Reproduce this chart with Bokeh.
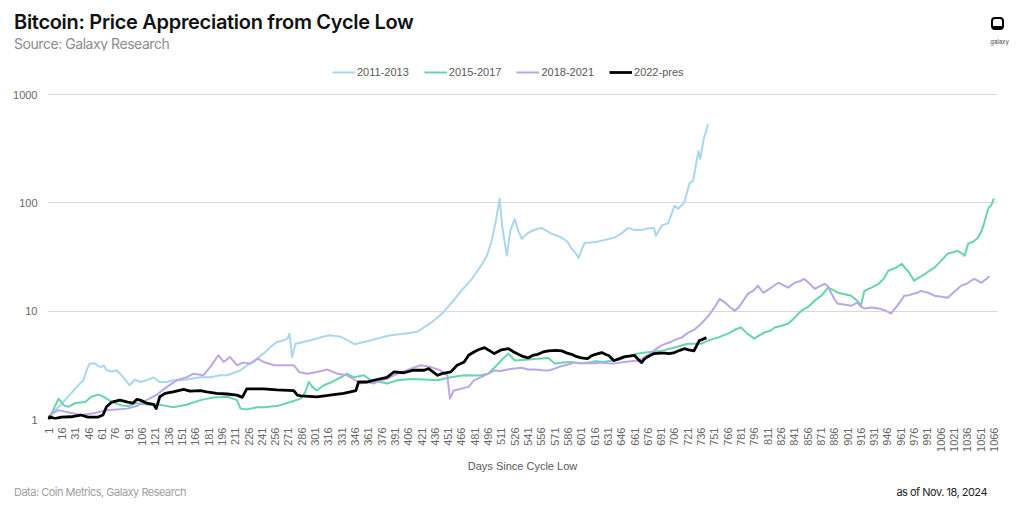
import math
from bokeh.plotting import figure
from bokeh.layouts import column
from bokeh.models import Range1d, FixedTicker, Legend, LegendItem, Div
from bokeh.embed import file_html
from bokeh.resources import INLINE

# ---------------- data (day since cycle low, multiple of cycle-low price) ----------------
pts_2011 = [(1, 1.0), (7, 1.2), (14, 1.35), (22, 1.6), (29, 1.86), (35, 2.1), (40, 2.3), (44, 2.9),
            (47, 3.29), (53, 3.29), (57, 3.1), (60, 3.06), (63, 3.15), (66, 2.85), (72, 2.77), (77, 2.85),
            (83, 2.56), (89, 2.22), (92, 2.07), (98, 2.34), (104, 2.22), (111, 2.30), (119, 2.44),
            (126, 2.22), (134, 2.22), (141, 2.30), (149, 2.30), (160, 2.37), (172, 2.45), (183, 2.45),
            (194, 2.56), (202, 2.56), (210, 2.7), (217, 2.85), (225, 3.2), (232, 3.40), (240, 3.9),
            (245, 4.2), (251, 4.68), (258, 5.2), (266, 5.4), (270, 5.6), (272, 6.2), (274, 4.68),
            (275, 3.78), (279, 5.0), (288, 5.2), (296, 5.4), (303, 5.59), (310, 5.8), (318, 6.0),
            (330, 5.8), (341, 5.2), (345, 4.95), (356, 5.2), (364, 5.4), (371, 5.59), (386, 6.0),
            (401, 6.2), (416, 6.45), (427, 7.4), (435, 8.2), (444, 9.5), (455, 12), (466, 15.5),
            (478, 20), (489, 27), (495, 33), (500, 44.6), (505, 70), (509, 109), (512, 60), (517, 32.5),
            (521, 55), (526, 71), (530, 55), (534, 46.5), (540, 52), (545, 55), (550, 57), (556, 58.7),
            (562, 55), (567, 52), (573, 50), (579, 47.6), (585, 44), (590, 38), (595, 34), (598, 31),
            (602, 38), (605, 42.8), (612, 43), (620, 44), (630, 46), (638, 47.6), (646, 52), (654, 58.7),
            (661, 56), (668, 56), (676, 58), (683, 58.7), (685, 49.6), (692, 62), (699, 65), (706, 94),
            (710, 88), (717, 100), (723, 152), (727, 160), (733, 300), (735, 254), (739, 390), (744, 535)]

pts_2015 = [(1, 1.0), (5, 1.18), (12, 1.56), (18, 1.35), (23, 1.31), (31, 1.42), (42, 1.45), (49, 1.62),
            (57, 1.70), (64, 1.60), (72, 1.45), (83, 1.35), (91, 1.33), (98, 1.42), (104, 1.40),
            (115, 1.37), (126, 1.37), (141, 1.30), (156, 1.37), (172, 1.51), (187, 1.60), (202, 1.62),
            (213, 1.51), (217, 1.26), (224, 1.24), (236, 1.30), (243, 1.30), (258, 1.33), (273, 1.45),
            (285, 1.56), (290, 1.80), (294, 2.22), (298, 2.0), (303, 1.85), (311, 2.07), (320, 2.22),
            (330, 2.45), (337, 2.65), (345, 2.45), (356, 2.56), (364, 2.30), (375, 2.22), (382, 2.15),
            (394, 2.30), (409, 2.37), (424, 2.34), (439, 2.30), (454, 2.45), (469, 2.56), (487, 2.55),
            (496, 2.65), (503, 3.0), (512, 3.6), (519, 4.06), (526, 3.5), (535, 3.55), (545, 3.6),
            (555, 3.65), (564, 3.7), (571, 3.28), (580, 3.35), (590, 3.4), (600, 3.3), (609, 3.35),
            (617, 3.45), (625, 3.4), (638, 3.5), (645, 3.6), (652, 3.8), (665, 4.06), (678, 4.2),
            (691, 4.3), (705, 4.6), (713, 4.8), (721, 5.0), (736, 5.0), (745, 5.4), (755, 5.7),
            (768, 6.3), (775, 6.8), (781, 7.06), (788, 6.2), (796, 5.58), (802, 6.0), (808, 6.4),
            (814, 6.6), (819, 7.06), (826, 7.3), (834, 7.65), (842, 8.8), (849, 10.1), (857, 11),
            (864, 12.5), (872, 14), (879, 16.5), (884, 15.8), (890, 14.8), (897, 14.4), (905, 13.9),
            (912, 12.5), (916, 11.2), (920, 15.4), (928, 16.5), (936, 17.9), (942, 20), (947, 23.6),
            (955, 25), (962, 27.4), (966, 25), (970, 23), (976, 19.1), (982, 20.5), (988, 22),
            (993, 23.5), (999, 25.2), (1006, 29), (1014, 34), (1020, 35), (1025, 36), (1030, 34),
            (1033, 32.5), (1037, 42), (1043, 44), (1048, 47.6), (1052, 55), (1055, 65), (1058, 80),
            (1060, 90), (1063, 95), (1066, 110)]

pts_2018 = [(1, 1.0), (5, 1.14), (12, 1.22), (20, 1.18), (37, 1.10), (52, 1.14), (66, 1.22), (77, 1.24),
            (89, 1.26), (100, 1.33), (111, 1.51), (123, 1.70), (134, 2.0), (145, 2.30), (156, 2.45),
            (164, 2.65), (175, 2.56), (183, 3.06), (192, 3.92), (198, 3.40), (205, 3.78), (213, 3.17),
            (220, 3.35), (228, 3.29), (236, 3.65), (243, 3.40), (255, 3.17), (266, 3.17), (277, 3.17),
            (283, 2.75), (292, 2.65), (303, 2.75), (315, 2.89), (326, 2.65), (337, 2.56), (345, 2.34),
            (352, 2.15), (360, 2.22), (367, 2.15), (375, 2.30), (382, 2.37), (394, 2.65), (409, 2.95),
            (420, 3.17), (431, 3.06), (442, 2.85), (450, 2.56), (453, 1.56), (457, 1.84), (465, 1.92),
            (474, 2.0), (480, 2.3), (490, 2.5), (503, 2.83), (510, 2.8), (518, 2.9), (526, 2.95),
            (534, 3.0), (541, 2.9), (549, 2.9), (557, 2.85), (564, 2.83), (571, 2.95), (578, 3.1),
            (585, 3.2), (593, 3.35), (600, 3.3), (608, 3.3), (616, 3.3), (624, 3.35), (631, 3.3),
            (638, 3.28), (644, 3.35), (650, 3.4), (657, 3.45), (665, 3.5), (671, 3.7), (678, 4.0),
            (684, 4.4), (691, 4.8), (696, 5.0), (702, 5.2), (708, 5.5), (714, 5.7), (721, 6.3),
            (729, 6.8), (736, 7.65), (744, 9.0), (751, 10.8), (757, 13), (763, 12), (768, 11),
            (774, 10.1), (778, 10.8), (782, 12), (789, 14.5), (795, 15.5), (800, 17.2), (806, 14.8),
            (810, 15.5), (815, 16.5), (823, 18.3), (828, 17.5), (834, 16.5), (838, 17.5), (843, 18.5),
            (848, 19), (852, 19.9), (858, 18), (864, 16.1), (870, 17), (875, 17.9), (879, 17), (882, 15),
            (886, 13), (890, 11.7), (897, 11.5), (905, 11.2), (912, 12), (916, 11), (920, 10.6),
            (928, 10.8), (936, 10.6), (943, 10.2), (950, 9.5), (958, 11.5), (965, 13.9), (970, 14),
            (975, 14.5), (980, 14.8), (984, 15.4), (988, 15), (992, 14.8), (999, 13.9), (1007, 13.6),
            (1014, 13.3), (1021, 15), (1025, 16), (1029, 17.2), (1036, 18), (1040, 19), (1044, 19.9),
            (1048, 19), (1052, 18.3), (1056, 19.5), (1058, 20), (1061, 21)]

pts_2022 = [(1, 1.0), (2, 1.06), (8, 1.02), (15, 1.05), (26, 1.06), (37, 1.1), (45, 1.05), (56, 1.05),
            (62, 1.1), (66, 1.31), (72, 1.45), (81, 1.51), (90, 1.45), (96, 1.42), (100, 1.53),
            (104, 1.51), (111, 1.42), (119, 1.38), (122, 1.26), (126, 1.62), (132, 1.74), (141, 1.80),
            (153, 1.90), (160, 1.83), (172, 1.85), (179, 1.80), (190, 1.74), (202, 1.72), (213, 1.68),
            (219, 1.60), (224, 1.92), (236, 1.92), (243, 1.92), (258, 1.88), (277, 1.85), (281, 1.68),
            (285, 1.65), (303, 1.62), (318, 1.68), (333, 1.74), (341, 1.80), (347, 1.85), (350, 2.22),
            (360, 2.22), (371, 2.34), (382, 2.45), (390, 2.75), (401, 2.70), (412, 2.85), (424, 2.85),
            (429, 2.95), (439, 2.56), (444, 2.65), (454, 2.75), (461, 3.17), (469, 3.40), (474, 3.92),
            (480, 4.2), (485, 4.4), (492, 4.6), (498, 4.3), (503, 4.06), (511, 4.4), (519, 4.5),
            (525, 4.2), (530, 4.0), (536, 3.8), (541, 3.7), (546, 3.9), (552, 4.0), (558, 4.2),
            (564, 4.3), (572, 4.35), (579, 4.3), (585, 4.1), (590, 4.0), (596, 3.8), (601, 3.7),
            (608, 3.65), (612, 3.85), (617, 4.0), (624, 4.15), (628, 4.0), (632, 3.9), (636, 3.6),
            (638, 3.5), (644, 3.65), (650, 3.8), (655, 3.85), (661, 3.9), (665, 3.6), (669, 3.35),
            (672, 3.6), (676, 3.8), (683, 4.06), (690, 4.1), (695, 4.1), (700, 4.05), (706, 4.15),
            (712, 4.35), (717, 4.5), (722, 4.4), (728, 4.3), (731, 4.8), (734, 5.35), (738, 5.5),
            (742, 5.7)]

series_names = ["2011-2013", "2015-2017", "2018-2021", "2022-pres"]
x_ticks = list(range(1, 1067, 15))
y_ticks = [1, 10, 100, 1000]

title_text = "Bitcoin: Price Appreciation from Cycle Low"
subtitle_text = "Source: Galaxy Research"
footer_left = "Data: Coin Metrics, Galaxy Research"
footer_right = "as of Nov. 18, 2024"

# ---------------- header ----------------
header = Div(width=1024, height=50, margin=0, text=f"""
<div style="position:relative;width:1024px;height:50px;">
 <div style="position:absolute;left:14px;top:10px;font-family:Inter;font-size:20px;font-weight:600;
      color:#111;white-space:nowrap;line-height:24px;letter-spacing:-0.3px;">{title_text}</div>
 <div style="position:absolute;left:14px;top:35px;font-family:Inter;font-size:14px;color:#8c8c8c;
      white-space:nowrap;line-height:17px;letter-spacing:-0.45px;">{subtitle_text}</div>
 <div style="position:absolute;left:991px;top:17px;width:13px;height:13px;border:2px solid #000;
      border-bottom-width:4px;border-radius:4px;"></div>
 <div style="position:absolute;left:986px;top:38px;width:27px;text-align:center;font-family:Inter;
      font-size:6px;line-height:7px;color:#444;">galaxy</div>
</div>""")

# ---------------- figure ----------------
# frame spans page y 50..419; the 1..1000 decades occupy 94..419, the band above holds the legend
y_top = 10 ** (3 + 44 / 108.33)
p = figure(width=1024, height=428, x_range=Range1d(-0.5, 1070), y_range=Range1d(1, y_top),
           y_axis_type="log", output_backend="svg", toolbar_location=None,
           min_border_left=47, min_border_right=27, min_border_top=0, min_border_bottom=59)
p.outline_line_color = None

colors = ["#aad6ef", "#66d6a9", "#bba6ea", "#000000"]
widths = [2, 2, 2, 2.8]
series = [pts_2011, pts_2015, pts_2018, pts_2022]
renderers = []
for pts, c, w in zip(series, colors, widths):
    d = [a for a, _ in pts]
    v = [b for _, b in pts]
    renderers.append(p.line(d, v, line_color=c, line_width=w, line_join="round"))

tick_color = "#666666"
p.xaxis.ticker = FixedTicker(ticks=x_ticks)
p.xaxis.major_label_orientation = math.pi / 2
p.xaxis.major_label_text_font = "Liberation Sans"
p.xaxis.major_label_text_font_size = "11px"
p.xaxis.major_label_text_color = tick_color
p.xaxis.major_label_standoff = 8
p.xaxis.major_tick_out = 0
p.xaxis.major_tick_in = 0
p.xaxis.minor_tick_out = 0
p.xaxis.axis_line_color = None
p.xaxis.major_tick_line_color = None
p.xaxis.minor_tick_line_color = None
p.xaxis.axis_label = "Days Since Cycle Low"
p.xaxis.axis_label_text_font = "Liberation Sans"
p.xaxis.axis_label_text_font_size = "11px"
p.xaxis.axis_label_text_font_style = "normal"
p.xaxis.axis_label_text_color = "#595959"
p.xaxis.axis_label_standoff = 5

p.yaxis.ticker = FixedTicker(ticks=y_ticks)
p.yaxis.major_label_overrides = {t: str(t) for t in y_ticks}
p.yaxis.major_label_text_font = "Liberation Sans"
p.yaxis.major_label_text_font_size = "11px"
p.yaxis.major_label_text_color = tick_color
p.yaxis.major_label_standoff = 10
p.yaxis.major_tick_out = 0
p.yaxis.major_tick_in = 0
p.yaxis.minor_tick_out = 0
p.yaxis.axis_line_color = None
p.yaxis.major_tick_line_color = None
p.yaxis.minor_tick_line_color = None

p.xgrid.grid_line_color = None
p.ygrid.ticker = FixedTicker(ticks=y_ticks)
p.ygrid.grid_line_color = "#d9d9d9"

items = [LegendItem(label=n, renderers=[r]) for n, r in zip(series_names, renderers)]
legend = Legend(items=items, orientation="horizontal", location=(285, 340),
                label_text_font="Liberation Sans", label_text_font_size="11px",
                label_text_color="#595959", glyph_width=23, glyph_height=14,
                label_standoff=2, spacing=15, padding=0, margin=0,
                border_line_color=None, background_fill_alpha=0)
p.add_layout(legend)

# ---------------- footer ----------------
footer = Div(width=1024, height=35, margin=0, text=f"""
<div style="position:relative;width:1024px;height:35px;">
 <div style="position:absolute;left:14px;top:8px;font-family:Inter;font-size:11px;line-height:13px;
      color:#a0a0a0;white-space:nowrap;letter-spacing:-0.5px;">{footer_left}</div>
 <div style="position:absolute;right:37px;top:8px;font-family:Inter;font-size:11px;line-height:13px;
      color:#222;white-space:nowrap;letter-spacing:-0.5px;">{footer_right}</div>
</div>""")

layout = column(header, p, footer, spacing=0)
open("out.html", "w").write(file_html(layout, INLINE))
